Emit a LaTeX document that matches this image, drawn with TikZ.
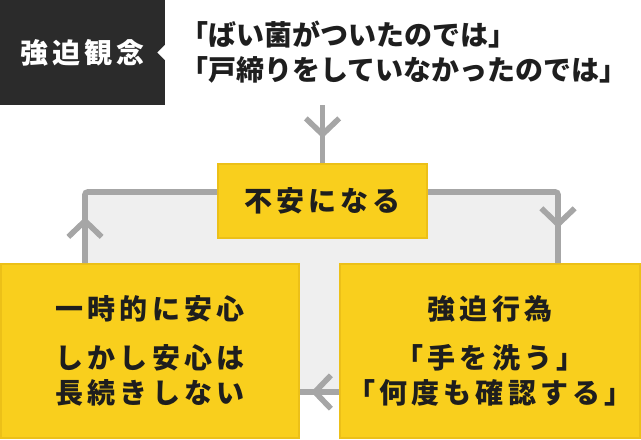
\documentclass[tikz,border=0pt]{standalone}
\usepackage{fontspec}
\setmainfont{Noto Sans CJK JP}
\usepackage{tikz}
\definecolor{ocdyellow}{RGB}{249, 207, 29}
\definecolor{ocdborder}{RGB}{236, 192, 24}
\definecolor{ocdgray}{RGB}{166, 166, 166}
\definecolor{ocdlight}{RGB}{239, 239, 239}
\definecolor{ocddark}{RGB}{43, 43, 43}
\definecolor{ocdtext}{RGB}{30, 30, 30}
\usetikzlibrary{arrows.meta,calc,decorations.markings}

\begin{document}
\begin{tikzpicture}[x=0.75pt, y=-0.75pt,
    label/.style={font=\fontsize{21}{26.25}\selectfont\bfseries\addfontfeature{LetterSpace=15}},
    box/.style={rectangle, draw=ocdborder, fill=ocdyellow, line width=1.5pt, inner sep=0pt, align=center, text=ocdtext, label},
    flow/.style={draw=ocdgray, line width=4.2pt},
    chev/.tip={Straight Barb[length=12pt, width=25pt]},
    midarrow/.style={postaction={decorate}, decoration={markings, mark=at position #1 with {\arrow{chev}}}}]
    \useasboundingbox (0, 0) rectangle (641, 439);

    % Loop background
    \fill[ocdlight] (85, 192) rectangle (558, 392);

    % Obsession
    \node[rectangle, fill=ocddark, minimum width=123.75pt, minimum height=78.75pt, text=white, label]
        (obsession) at (82.5, 52.5) {強迫観念};
    \fill[white] ($(obsession.east)+(0, -8)$) -- ++(-8, 8) -- ++(8, 8) -- cycle;
    \node[anchor=west, align=left, inner sep=0pt, text=ocdtext, font=\fontsize{21}{26.25}\selectfont\bfseries]
        (thought) at (180, 52.5) {「ばい菌がついたのでは」\\「戸締りをしていなかったのでは」};

    % Cycle
    \node[box, minimum width=156.75pt, minimum height=55.5pt] (anxiety) at (322.5, 201) {不安になる};
    \node[box, minimum width=223.5pt, minimum height=130.5pt] (relief) at (150, 351)
        {一時的に安心\\[11pt]しかし安心は\\長続きしない};
    \node[box, minimum width=225pt, minimum height=130.5pt] (action) at (490, 351)
        {強迫行為\\[11pt]「手を洗う」\\「何度も確認する」};

    \coordinate (leftturn) at (85, 192);
    \coordinate (rightturn) at (558, 192);
    \coordinate (bottomline) at (0, 392);

    % Flow
    \draw[flow, midarrow=24.75pt] (obsession.south -| anxiety.north) -- (anxiety.north);
    \draw[flow, rounded corners=2pt, midarrow=34.5pt] (relief.north -| leftturn) |- (anxiety.west |- leftturn);
    \draw[flow, rounded corners=2pt, midarrow=123.75pt] (anxiety.east |- rightturn) -| (action.north -| rightturn);
    \draw[flow, midarrow=21pt] (action.west |- bottomline) -- (relief.east |- bottomline);
\end{tikzpicture}
\end{document}
